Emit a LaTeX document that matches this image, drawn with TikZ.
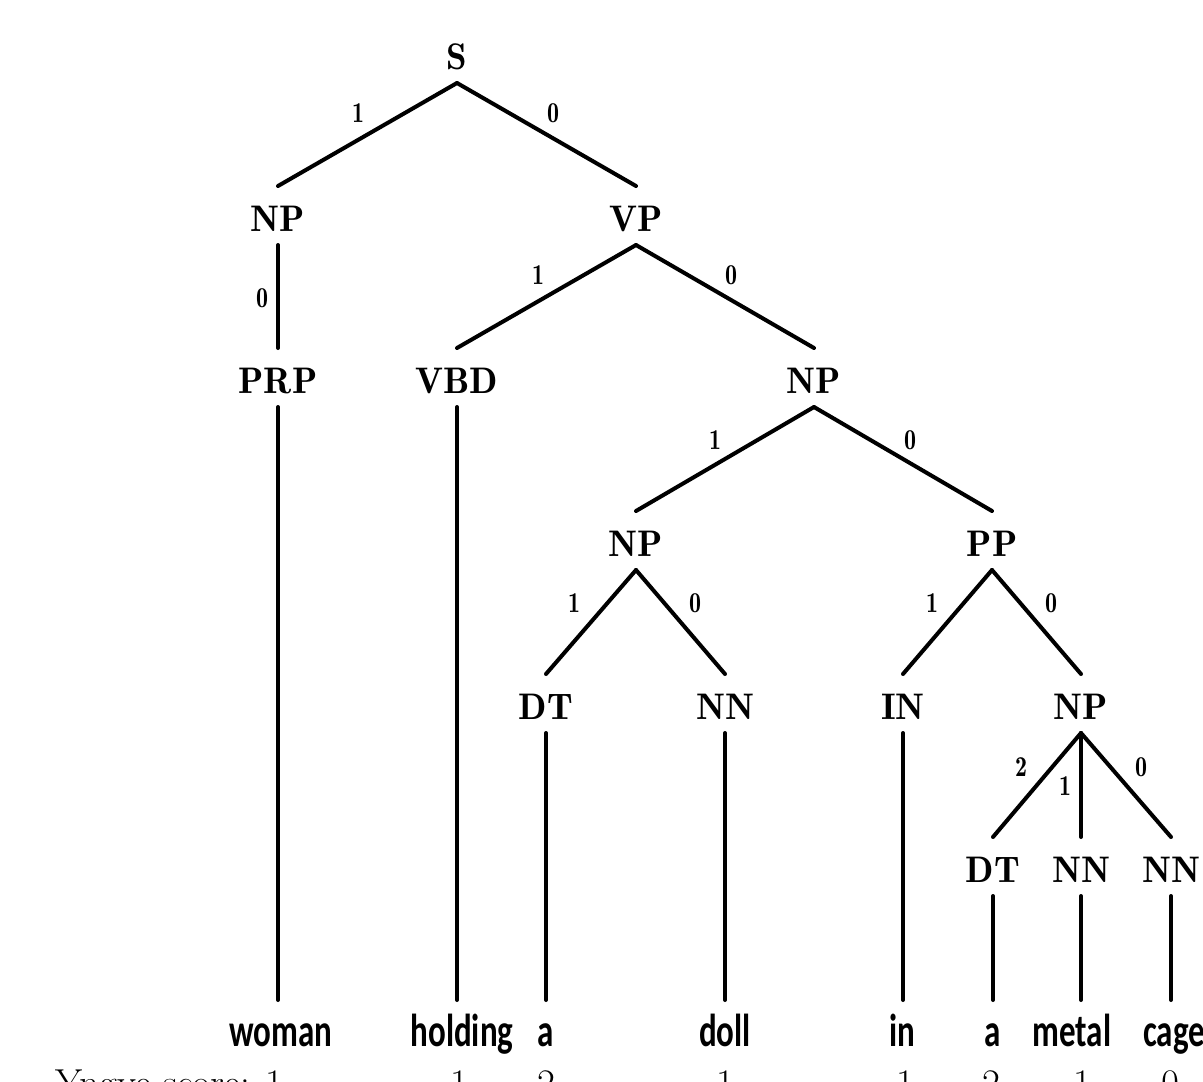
\documentclass[tikz,border=0pt]{standalone}
\usepackage{fontspec}
\newfontfamily\wordfont{Carlito}
\newfontfamily\labfont{lmromandemi10-regular.otf}
\newcommand{\tallnum}[1]{\scalebox{1}[1.2]{#1}}
\begin{document}
\begin{tikzpicture}[x=1pt,y=-1pt,
  lab/.style={font=\labfont\fontsize{37}{37}\selectfont, inner sep=0pt, text height=31pt, text depth=0pt, outer sep=14pt, anchor=base},
  wrd/.style={font=\wordfont\bfseries\fontsize{33}{33}\selectfont, inner sep=0pt, text height=26pt, text depth=9pt, outer sep=20pt, anchor=base},
  elab/.style={font=\labfont\fontsize{24}{24}\selectfont, inner sep=0pt},
  ysc/.style={font=\fontsize{39}{39}\selectfont, inner sep=0pt, anchor=base},
  br/.style={line width=4pt, line cap=round}]
\useasboundingbox (0,0) rectangle (1203,1082);
\clip (0,0) rectangle (1203,1082);
\fill[white] (0,0) rectangle (1203,1082);
% tree labels
\node[lab] (S)    at (457,69)  {S};
\node[lab] (NPa)  at (278,231) {NP};
\node[lab] (VP)   at (636,231) {VP};
\node[lab] (PRP)  at (278,393) {PRP};
\node[lab] (VBD)  at (457,393) {VBD};
\node[lab] (NPb)  at (814,393) {NP};
\node[lab] (NPc)  at (636,556) {NP};
\node[lab] (PP)   at (992,556) {PP};
\node[lab] (DTa)  at (546,719) {DT};
\node[lab] (NNa)  at (725,719) {NN};
\node[lab] (IN)   at (903,719) {IN};
\node[lab] (NPd)  at (1081,719) {NP};
\node[lab] (DTb)  at (993,882) {DT};
\node[lab] (NNb)  at (1081,882) {NN};
\node[lab] (NNc)  at (1171,882) {NN};
% words
\node[wrd] (w1) at (281,1046) {\scalebox{1}[1.4]{woman}};
\node[wrd] (w2) at (462,1046) {\scalebox{1}[1.4]{holding}};
\node[wrd] (w3) at (546,1046) {\scalebox{1}[1.4]{a}};
\node[wrd] (w4) at (725,1046) {\scalebox{1}[1.4]{doll}};
\node[wrd] (w5) at (902,1046) {\scalebox{1}[1.4]{in}};
\node[wrd] (w6) at (993,1046) {\scalebox{1}[1.4]{a}};
\node[wrd] (w7) at (1072,1046) {\scalebox{1}[1.4]{metal}};
\node[wrd] (w8) at (1174,1046) {\scalebox{1}[1.4]{cage}};
% Yngve scores (cut off at bottom, as in the reference)
\node[ysc, anchor=base east] (y1) at (284,1096) {Yngve score: 1};
\node[ysc] (y2) at (459,1096) {1};
\node[ysc] (y3) at (546,1096) {2};
\node[ysc] (y4) at (725,1096) {1};
\node[ysc] (y5) at (905,1096) {1};
\node[ysc] (y6) at (991,1096) {2};
\node[ysc] (y7) at (1082,1096) {1};
\node[ysc] (y8) at (1170,1096) {0};
% branches
\draw[br] (S.south) -- (NPa.north);
\draw[br] (S.south) -- (VP.north);
\draw[br] (NPa.south) -- (PRP.north);
\draw[br] (VP.south) -- (VBD.north);
\draw[br] (VP.south) -- (NPb.north);
\draw[br] (NPb.south) -- (NPc.north);
\draw[br] (NPb.south) -- (PP.north);
\draw[br] (NPc.south) -- (DTa.north);
\draw[br] (NPc.south) -- (NNa.north);
\draw[br] (PP.south) -- (IN.north);
\draw[br] (PP.south) -- (NPd.north);
\draw[br] (NPd.south) -- (DTb.north);
\draw[br] (NPd.south) -- (NNb.north);
\draw[br] (NPd.south) -- (NNc.north);
% leaf lines
\draw[br] (PRP.south) -- (PRP.south |- w1.north);
\draw[br] (VBD.south) -- (VBD.south |- w2.north);
\draw[br] (DTa.south) -- (DTa.south |- w3.north);
\draw[br] (NNa.south) -- (NNa.south |- w4.north);
\draw[br] (IN.south) -- (IN.south |- w5.north);
\draw[br] (DTb.south) -- (DTb.south |- w6.north);
\draw[br] (NNb.south) -- (NNb.south |- w7.north);
\draw[br] (NNc.south) -- (NNc.south |- w8.north);
% edge labels
\node[elab] (e1)  at (358,113) {\tallnum{1}};
\node[elab] (e2)  at (553,113) {\tallnum{0}};
\node[elab] (e3)  at (262,298) {\tallnum{0}};
\node[elab] (e4)  at (538,275) {\tallnum{1}};
\node[elab] (e5)  at (731,275) {\tallnum{0}};
\node[elab] (e6)  at (715,440) {\tallnum{1}};
\node[elab] (e7)  at (910,440) {\tallnum{0}};
\node[elab] (e8)  at (574,603) {\tallnum{1}};
\node[elab] (e9)  at (695,603) {\tallnum{0}};
\node[elab] (e10) at (932,603) {\tallnum{1}};
\node[elab] (e11) at (1051,603) {\tallnum{0}};
\node[elab] (e12) at (1021,767) {\tallnum{2}};
\node[elab] (e13) at (1065,786) {\tallnum{1}};
\node[elab] (e14) at (1141,767) {\tallnum{0}};
\end{tikzpicture}
\end{document}
